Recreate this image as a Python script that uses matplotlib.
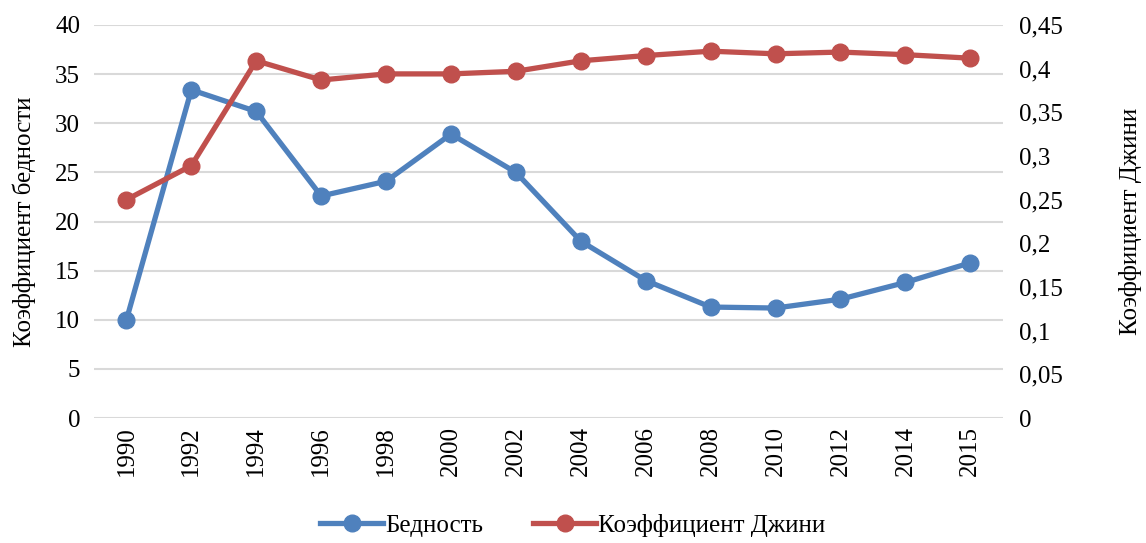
import numpy as np
import matplotlib.pyplot as plt

years = ['1990', '1992', '1994', '1996', '1998', '2000', '2002', '2004',
         '2006', '2008', '2010', '2012', '2014', '2015']
poverty = [10.0, 33.4, 31.2, 22.6, 24.1, 28.9, 25.0, 18.0, 14.0, 11.3, 11.2, 12.1, 13.8, 15.8]
gini = [0.250, 0.289, 0.409, 0.387, 0.394, 0.394, 0.397, 0.409, 0.415, 0.420,
        0.417, 0.419, 0.416, 0.412]

left_ticks = np.arange(0, 41, 5)
right_ticks = [0, 0.05, 0.1, 0.15, 0.2, 0.25, 0.3, 0.35, 0.4, 0.45]
right_labels = ['0', '0,05', '0,1', '0,15', '0,2', '0,25', '0,3', '0,35', '0,4', '0,45']

plt.rcParams['font.family'] = ['Liberation Serif', 'DejaVu Serif']
plt.rcParams['font.size'] = 18

blue = '#4F81BD'
red = '#C0504D'

fig = plt.figure(figsize=(11.46, 5.43), dpi=100)
ax1 = fig.add_axes([0.082, 0.230, 0.793, 0.724])
ax2 = ax1.twinx()

x = np.arange(len(years))
l1, = ax1.plot(x, poverty, color=blue, lw=3.8, marker='o', markersize=12, label='Бедность')
l2, = ax2.plot(x, gini, color=red, lw=3.8, marker='o', markersize=12, label='Коэффициент Джини')

ax1.set_xlim(-0.5, len(years) - 0.5)
ax1.set_ylim(0, 40)
ax2.set_ylim(0, 0.45)
ax1.set_yticks(left_ticks)
ax2.set_yticks(right_ticks)
ax2.set_yticklabels(right_labels)
ax1.set_xticks(x)
ax1.set_xticklabels(years, rotation=90)

ax1.grid(axis='y', color='#D9D9D9', lw=1.5)
ax1.set_axisbelow(True)
for a in (ax1, ax2):
    for s in a.spines.values():
        s.set_visible(False)
    a.tick_params(length=0, pad=12)
ax1.tick_params(axis='x', pad=6)
ax1.tick_params(axis='y', pad=10)

ax1.set_ylabel('Коэффициент бедности', labelpad=14)
ax2.set_ylabel('Коэффициент Джини', rotation=90, labelpad=40)

fig.legend(handles=[l1, l2], loc='lower center', bbox_to_anchor=(0.5, -0.03), ncol=2,
           frameon=False, handlelength=2.5, columnspacing=2.0, handletextpad=0.1)

fig.savefig('out.png', dpi=100)
